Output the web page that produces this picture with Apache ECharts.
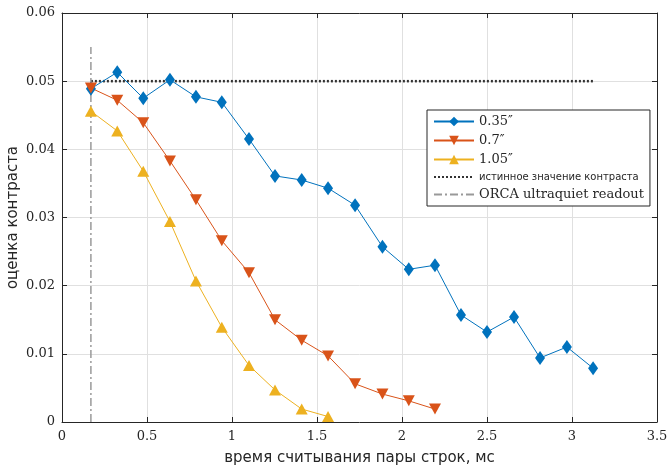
<!DOCTYPE html>
<html>
<head>
<meta charset="utf-8">
<script src="https://cdn.jsdelivr.net/npm/echarts@6/dist/echarts.min.js"></script>
<style>
  html, body { margin: 0; padding: 0; background: #fff; }
  #main { width: 667px; height: 466px; }
</style>
</head>
<body>
<div id="main"></div>
<script>
// время считывания пары строк, мс
var readTimes = [0.17, 0.325, 0.478, 0.635, 0.788, 0.94, 1.1, 1.253, 1.41, 1.565,
                 1.724, 1.885, 2.04, 2.194, 2.347, 2.5, 2.659, 2.812, 2.97, 3.124];
var seeing035 = [0.0489, 0.0513, 0.0475, 0.0502, 0.0477, 0.0469, 0.0415, 0.0361, 0.0355, 0.0343,
                 0.0318, 0.0257, 0.0224, 0.0230, 0.0157, 0.0132, 0.0154, 0.0094, 0.0110, 0.0079];
var seeing07  = [0.0490, 0.0472, 0.0439, 0.0383, 0.0326, 0.0266, 0.0219, 0.0150, 0.0120, 0.0097,
                 0.0056, 0.0041, 0.0031, 0.0019];
var seeing105 = [0.0456, 0.0427, 0.0368, 0.0294, 0.0207, 0.0139, 0.0083, 0.0047, 0.0019, 0.0008];
var trueContrast = 0.05;
var orcaTime = 0.17;
var orcaTop = 0.055;
var xTicks = { min: 0, max: 3.5, interval: 0.5 };
var yTicks = { min: 0, max: 0.06, interval: 0.01 };

var names = ['0.35\u2033', '0.7\u2033', '1.05\u2033', 'истинное значение контраста', 'ORCA ultraquiet readout'];

function pairs(vals) {
  return vals.map(function (v, i) { return [readTimes[i], v]; });
}

var serif = '"DejaVu Serif", "Liberation Serif", serif';
var sans = '"DejaVu Sans", sans-serif';
var axisColor = '#262626';

var myChart = echarts.init(document.getElementById('main'));

function xAxisCfg(top) {
  return {
    type: 'value', min: xTicks.min, max: xTicks.max, interval: xTicks.interval,
    position: top ? 'top' : 'bottom',
    name: top ? '' : 'время считывания пары строк, мс',
    nameLocation: 'middle', nameGap: 29, nameMoveOverlap: false,
    nameTextStyle: { fontFamily: sans, fontSize: 15, color: '#262626' },
    axisLine: { show: true, onZero: false, lineStyle: { color: axisColor, width: 1 } },
    axisTick: { show: true, inside: true, length: 5, lineStyle: { color: axisColor } },
    axisLabel: { show: !top, fontFamily: serif, fontSize: 13, color: '#262626', margin: 8 },
    splitLine: { show: !top, lineStyle: { color: '#e0e0e0', width: 1 } }
  };
}
function yAxisCfg(right) {
  return {
    type: 'value', min: yTicks.min, max: yTicks.max, interval: yTicks.interval,
    position: right ? 'right' : 'left',
    name: right ? '' : 'оценка контраста',
    nameLocation: 'middle', nameGap: 41, nameMoveOverlap: false,
    nameTextStyle: { fontFamily: sans, fontSize: 15, color: '#262626' },
    axisLine: { show: true, onZero: false, lineStyle: { color: axisColor, width: 1 } },
    axisTick: { show: true, inside: true, length: 5, lineStyle: { color: axisColor } },
    axisLabel: {
      show: !right, fontFamily: serif, fontSize: 13, color: '#262626', margin: 7,
      formatter: function (v) { return v === 0 ? '0' : v.toFixed(2); }
    },
    splitLine: { show: !right, lineStyle: { color: '#e0e0e0', width: 1 } }
  };
}

function markerSeries(name, vals, color, symbol, size, rotate) {
  return {
    name: name, type: 'line', data: pairs(vals),
    xAxisIndex: 0, yAxisIndex: 0,
    symbol: symbol, symbolSize: size, symbolRotate: rotate || 0,
    showAllSymbol: true,
    lineStyle: { color: color, width: 1 },
    itemStyle: { color: color, borderWidth: 0 },
    emphasis: { disabled: true },
    animation: false, z: 3
  };
}

var noMarker = { color: 'rgba(0,0,0,0)', borderWidth: 0 };

myChart.setOption({
  animation: false,
  grid: { left: 62, right: 10, top: 13, bottom: 44, containLabel: false, outerBoundsMode: 'none' },
  xAxis: [xAxisCfg(false), xAxisCfg(true)],
  yAxis: [yAxisCfg(false), yAxisCfg(true)],
  legend: {
    orient: 'vertical', left: 427, top: 110,
    backgroundColor: '#fff', borderColor: axisColor, borderWidth: 1,
    padding: [5, 6, 5, 6], itemGap: 6, itemWidth: 40, itemHeight: 12,
    textStyle: { fontFamily: serif, fontSize: 13, color: '#262626' },
    data: [
      { name: names[0] }, { name: names[1] }, { name: names[2] },
      { name: names[3], itemStyle: noMarker, textStyle: { fontFamily: sans, fontSize: 10 } },
      { name: names[4], itemStyle: noMarker }
    ],
    selectedMode: false
  },
  series: [
    markerSeries(names[0], seeing035, '#0072BD', 'diamond', [10, 14]),
    markerSeries(names[1], seeing07, '#D95319', 'triangle', [12, 11], 180),
    markerSeries(names[2], seeing105, '#EDB120', 'triangle', [12, 11]),
    {
      name: names[3], type: 'line', symbol: 'none',
      data: [[readTimes[0], trueContrast], [readTimes[readTimes.length - 1], trueContrast]],
      lineStyle: { color: '#333', width: 2.5, type: [2, 2] },
      itemStyle: { color: '#333' }, z: 2
    },
    {
      name: names[4], type: 'line', symbol: 'none',
      data: [[orcaTime, 0], [orcaTime, orcaTop]],
      lineStyle: { color: '#999', width: 1.5, type: [8, 3, 2, 3] },
      itemStyle: { color: '#999' }, z: 2
    }
  ]
});
</script>
</body>
</html>
